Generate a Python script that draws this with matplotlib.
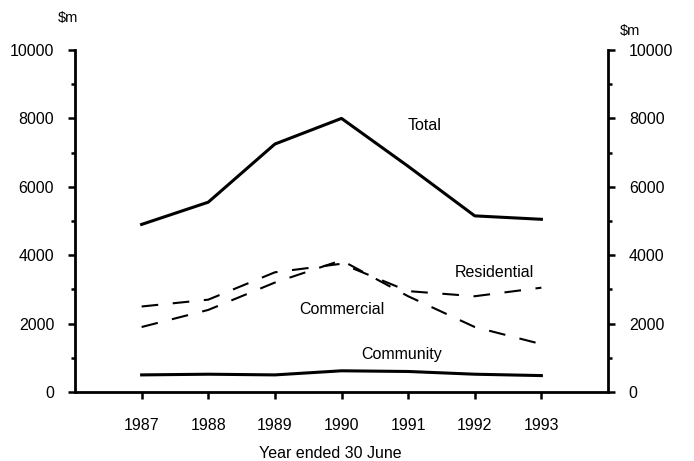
import numpy as np
import matplotlib
matplotlib.use("Agg")
import matplotlib.pyplot as plt
import matplotlib.ticker as mticker

plt.rcParams["font.family"] = ["Liberation Sans", "DejaVu Sans"]

years = [1987, 1988, 1989, 1990, 1991, 1992, 1993]
total = [4900, 5550, 7250, 8000, 6600, 5150, 5050]
residential = [2500, 2700, 3500, 3750, 2950, 2800, 3050]
commercial = [1900, 2400, 3200, 3850, 2800, 1900, 1400]
community = [500, 520, 500, 620, 600, 520, 480]

labels = {
    "Total": (1991.25, 7800),
    "Residential": (1992.3, 3500),
    "Commercial": (1990.0, 2400),
    "Community": (1990.9, 1100),
}

fig = plt.figure(figsize=(6.94, 4.61), dpi=100)
ax = fig.add_axes([75/694, 1-392/461, 533/694, 342/461])

ax.plot(years, total, color="black", linewidth=2.2, solid_joinstyle="round")
ax.plot(years, residential, color="black", linewidth=1.5, dashes=(8, 7))
ax.plot(years, commercial, color="black", linewidth=1.5, dashes=(8, 7))
ax.plot(years, community, color="black", linewidth=2.2)

for name, (x, y) in labels.items():
    ax.text(x, y, name, ha="center", va="center", fontsize=11.5)

ax.set_xlim(1986, 1994)
ax.set_ylim(0, 10000)

ax.spines["top"].set_visible(False)
for side in ["left", "right", "bottom"]:
    ax.spines[side].set_linewidth(2)

ax.set_xticks(years)
ax.xaxis.set_major_formatter(mticker.FormatStrFormatter("%d"))
ax.set_yticks(np.arange(0, 10001, 2000))
ax.yaxis.set_minor_locator(mticker.MultipleLocator(1000))
ax.tick_params(axis="x", direction="out", length=5, width=1.8, pad=14, labelsize=11.5)
ax.tick_params(axis="y", which="both", direction="out", width=1.8, labelsize=11.5,
               left=True, right=True, labelleft=True, labelright=True)
ax.tick_params(axis="y", which="major", length=5, pad=10)
ax.tick_params(axis="y", which="minor", length=3)

ax.text(-0.013, 1.094, "$m", transform=ax.transAxes, ha="center", va="center", fontsize=10.5)
ax.text(1.041, 1.056, "$m", transform=ax.transAxes, ha="center", va="center", fontsize=10.5)
fig.text(330/694, 1-453/461, "Year ended 30 June", ha="center", va="center", fontsize=11.5)

fig.savefig("out.png", dpi=100)
